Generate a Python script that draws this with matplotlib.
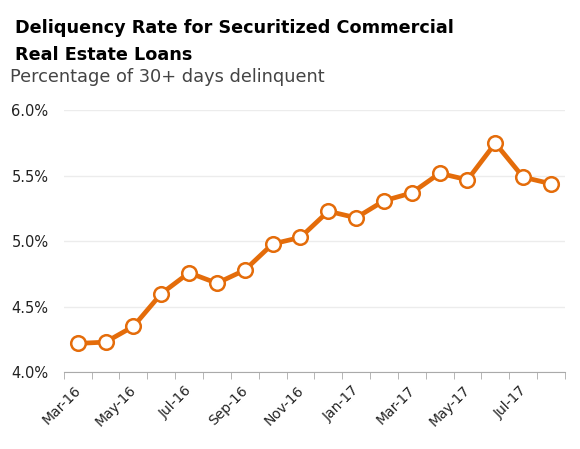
import matplotlib
matplotlib.use("Agg")
import matplotlib.pyplot as plt
import numpy as np
from matplotlib.ticker import FixedLocator, FuncFormatter


# ── Data ──────────────────────────────────────────────────────────────────────

months = ["Mar-16", "Apr-16", "May-16", "Jun-16", "Jul-16", "Aug-16",
          "Sep-16", "Oct-16", "Nov-16", "Dec-16", "Jan-17", "Feb-17",
          "Mar-17", "Apr-17", "May-17", "Jun-17", "Jul-17", "Aug-17"]
rate   = [4.22, 4.23, 4.35, 4.60, 4.76, 4.68,
          4.78, 4.98, 5.03, 5.23, 5.18, 5.31,
          5.37, 5.52, 5.47, 5.75, 5.49, 5.44]
y_ticks = [4.0, 4.5, 5.0, 5.5, 6.0]


# ── Style ─────────────────────────────────────────────────────────────────────

ORANGE = "#E46C0A"
plt.rcParams["font.family"] = ["DejaVu Sans"]


# ── Plot ──────────────────────────────────────────────────────────────────────

fig = plt.figure(figsize=(5.8, 4.49), dpi=100)
ax  = fig.add_axes([0.110, 0.171, 0.864, 0.583])

x = np.arange(len(months))
ax.plot(x, rate, color=ORANGE, lw=3.4, marker="o", ms=10.5,
        mfc="white", mec=ORANGE, mew=1.8, zorder=3)

ax.set_xlim(-0.5, len(months) - 0.5)
ax.set_ylim(4.0, 6.0)

# y axis: light gridlines, plain percent labels
ax.set_yticks(y_ticks)
ax.yaxis.set_major_formatter(FuncFormatter(lambda v, _: f"{v:.1f}%"))
ax.grid(axis="y", color="#ECECEC", lw=1)
ax.tick_params(axis="y", length=0, pad=11, labelsize=10.5, labelcolor="#222222")

# x axis: tick marks between categories, label every other month
ax.set_xticks(x[::2] - 0.15)
ax.set_xticklabels(months[::2], rotation=45, ha="right", rotation_mode="anchor")
ax.xaxis.set_minor_locator(FixedLocator(np.arange(-0.5, len(months), 1)))
ax.tick_params(axis="x", which="major", length=0, pad=8, labelsize=10,
               labelcolor="#222222")
ax.tick_params(axis="x", which="minor", length=5, color="#AAAAAA")

for side in ["top", "right", "left"]:
    ax.spines[side].set_visible(False)
ax.spines["bottom"].set_color("#AAAAAA")
ax.set_axisbelow(True)

# ── Titles ────────────────────────────────────────────────────────────────────

fig.text(0.026, 1 - 33 / 449, "Deliquency Rate for Securitized Commercial",
         fontsize=12.7, fontweight="bold", color="black", va="baseline")
fig.text(0.026, 1 - 60 / 449, "Real Estate Loans",
         fontsize=12.7, fontweight="bold", color="black", va="baseline")
fig.text(0.018, 1 - 82 / 449, "Percentage of 30+ days delinquent",
         fontsize=12.8, color="#444444", va="baseline")

fig.savefig("out.png", dpi=100)
